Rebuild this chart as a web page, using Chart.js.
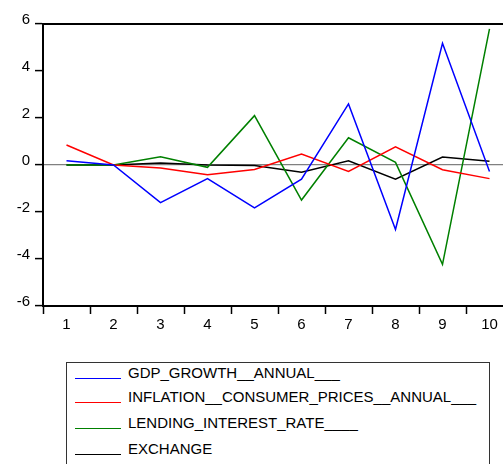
<!DOCTYPE html>
<html>
<head>
<meta charset="utf-8">
<script src="https://cdn.jsdelivr.net/npm/chart.js@4"></script>
<style>
    html, body { margin: 0; padding: 0; background: #fff; overflow: hidden; width: 503px; height: 464px; }
    #wrap { position: absolute; left: 0; top: 0; width: 520px; height: 340px; }
    #legend { position: absolute; left: 66px; top: 362px; width: 424px; height: 130px; border: 1px solid #333; box-sizing: border-box; }
    .row { position: absolute; left: 0; height: 22px; font: 15px 'Liberation Sans', Arial, sans-serif; color: #000; white-space: nowrap; }
    .row .sample { position: absolute; left: 8px; width: 46px; height: 0; }
    .row .txt { position: absolute; left: 61px; top: 0; line-height: 22px; }
</style>
</head>
<body>
<div id="wrap"><canvas id="chart" width="520" height="340"></canvas></div>
<div id="legend"></div>
<script>
// ========================================
// Data
// ========================================
const categories = ['1', '2', '3', '4', '5', '6', '7', '8', '9', '10'];
const gdpGrowth = [0.18, 0.0, -1.6, -0.58, -1.82, -0.6, 2.6, -2.74, 5.18, -0.28];
const inflation = [0.85, 0.0, -0.13, -0.41, -0.19, 0.47, -0.27, 0.77, -0.2, -0.58];
const lendingRate = [0.0, 0.0, 0.35, -0.1, 2.1, -1.49, 1.16, 0.11, -4.23, 5.79];
const exchange = [0.0, 0.0, 0.08, 0.0, -0.02, -0.31, 0.18, -0.6, 0.34, 0.16];
const seriesNames = [
    'GDP_GROWTH__ANNUAL___',
    'INFLATION__CONSUMER_PRICES__ANNUAL___',
    'LENDING_INTEREST_RATE____',
    'EXCHANGE'
];
const yTicks = [-6, -4, -2, 0, 2, 4, 6];

const colors = {
    gdp: '#0000FF',
    inflation: '#FF0000',
    lending: '#008000',
    exchange: '#000000',
    zero: '#808080'
};

const font = { family: "'Liberation Sans', Arial, sans-serif", size: 15 };

// top frame line (the box is open on the right side, outside the view)
const frameTop = {
    id: 'frameTop',
    beforeDatasetsDraw(chart) {
        const { ctx, chartArea } = chart;
        ctx.save();
        ctx.strokeStyle = '#000';
        ctx.lineWidth = 2;
        ctx.beginPath();
        ctx.moveTo(chartArea.left, chartArea.top);
        ctx.lineTo(chartArea.right, chartArea.top);
        ctx.stroke();
        ctx.restore();
    }
};

function line(label, data, color) {
    return {
        label: label,
        data: data,
        borderColor: color,
        backgroundColor: color,
        borderWidth: 1.5,
        pointRadius: 0,
        tension: 0,
        fill: false
    };
}

const chart = new Chart(document.getElementById('chart'), {
    type: 'line',
    data: {
        labels: categories,
        datasets: [
            line(seriesNames[0], gdpGrowth, colors.gdp),
            line(seriesNames[1], inflation, colors.inflation),
            line(seriesNames[2], lendingRate, colors.lending),
            line(seriesNames[3], exchange, colors.exchange)
        ]
    },
    options: {
        responsive: false,
        animation: false,
        layout: { padding: { top: 24, right: 7, left: 0, bottom: 0 } },
        plugins: {
            legend: { display: false },
            tooltip: { enabled: false }
        },
        scales: {
            x: {
                type: 'category',
                offset: true,
                grid: {
                    offset: true,
                    drawOnChartArea: false,
                    tickLength: 8,
                    tickColor: '#000',
                    tickWidth: 1.5
                },
                border: { display: true, color: '#000', width: 2 },
                ticks: { color: '#000', font: font, padding: 2, maxRotation: 0, autoSkip: false },
                afterFit: (scale) => { scale.height = 34; }
            },
            y: {
                min: -6,
                max: 6,
                afterBuildTicks: (scale) => { scale.ticks = yTicks.map(v => ({ value: v })); },
                grid: {
                    color: (c) => (c.tick && c.tick.value === 0 ? colors.zero : 'rgba(0,0,0,0)'),
                    lineWidth: 1.2,
                    tickLength: 8,
                    tickColor: '#000',
                    tickWidth: 1.5
                },
                border: { display: true, color: '#000', width: 2 },
                ticks: { color: '#000', font: font, padding: 5, labelOffset: -4 },
                afterFit: (scale) => { scale.width = 43; }
            }
        }
    },
    plugins: [frameTop]
});

// ========================================
// Boxed legend below the plot
// ========================================
function buildLegend() {
    const box = document.getElementById('legend');
    const baselines = [16, 40, 66, 92];
    chart.data.datasets.forEach((ds, i) => {
        const row = document.createElement('div');
        row.className = 'row';
        row.style.top = (baselines[i] - 17.5) + 'px';
        const sample = document.createElement('div');
        sample.className = 'sample';
        sample.style.top = '16px';
        sample.style.borderTop = '1.5px solid ' + ds.borderColor;
        const txt = document.createElement('span');
        txt.className = 'txt';
        txt.textContent = ds.label;
        row.appendChild(sample);
        row.appendChild(txt);
        box.appendChild(row);
    });
}
buildLegend();
</script>
</body>
</html>
